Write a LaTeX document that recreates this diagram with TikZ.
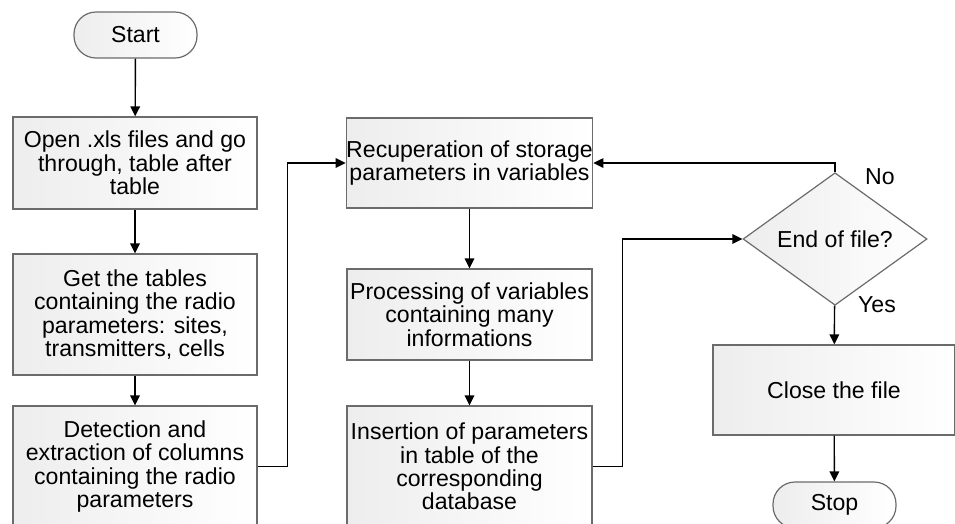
\documentclass[tikz,border=0pt]{standalone}
\usepackage{fontspec}
\setmainfont{Liberation Sans}
\usetikzlibrary{arrows.meta,shapes.geometric}

\begin{document}
\begin{tikzpicture}[x=1pt, y=-1pt,
	font=\fontsize{23.1}{23.4}\selectfont,
	stepbox/.style={draw=black!58, line width=1.2pt, left color=black!7, right color=white, inner sep=0pt, align=center},
	endbox/.style={stepbox, rounded corners=22pt, minimum width=123pt, minimum height=46pt},
	testbox/.style={stepbox, diamond, minimum width=184pt, minimum height=90pt},
	flow/.style={line width=1.4pt, -{Triangle[length=10pt, width=9.5pt]}}]
			%%%%% START %%%%%
			
			\useasboundingbox (0, 0) rectangle (955, 523);
			\clip (0, 0) rectangle (955, 523);
			
			\node[endbox] (start) at (135.5, 35) {Start};
			
			\node[stepbox, minimum width=244pt, minimum height=92pt] (open) at (135, 163) {Open .xls files and go\\through, table after\\table};
			\node[stepbox, minimum width=244pt, minimum height=121pt] (tables) at (135, 314.5) {Get the tables\\containing the radio\\parameters: sites,\\transmitters, cells};
			\node[stepbox, minimum width=244pt, minimum height=121pt] (detect) at (135, 466.5) {Detection and\\extraction of columns\\containing the radio\\parameters};
			
			\node[stepbox, minimum width=245pt, minimum height=90pt] (recup) at (469.5, 163) {Recuperation of storage\\parameters in variables};
			\node[stepbox, minimum width=245pt, minimum height=91pt] (proc) at (469.5, 314.5) {Processing of variables\\containing many\\informations};
			\node[stepbox, minimum width=245pt, minimum height=121pt] (insert) at (469.5, 466.5) {Insertion of parameters\\in table of the\\corresponding\\database};
			
			\node[testbox] (eof) at (835, 239) {End of file?};
			\node[stepbox, minimum width=242pt, minimum height=90pt] (close) at (834, 390) {Close the file};
			\node[endbox] (stop) at (834.5, 505) {Stop};
			
			\node (no) at (880, 177) {No};
			\node (yes) at (877, 305) {Yes};
			
			\draw[flow] (start) -- (open);
			\draw[flow] (open) -- (tables);
			\draw[flow] (tables) -- (detect);
			\draw[flow] (detect.east) -- ++(30, 0) |- (recup.west);
			
			\draw[flow] (recup) -- (proc);
			\draw[flow] (proc) -- (insert);
			\draw[flow] (insert.east) -- ++(30, 0) |- (eof.west);
			
			\draw[flow] (eof.north) |- (recup.east);
			\draw[flow] (eof) -- (close);
			\draw[flow] (close) -- (stop);
			
			%%%%% END %%%%%
\end{tikzpicture}
\end{document}
